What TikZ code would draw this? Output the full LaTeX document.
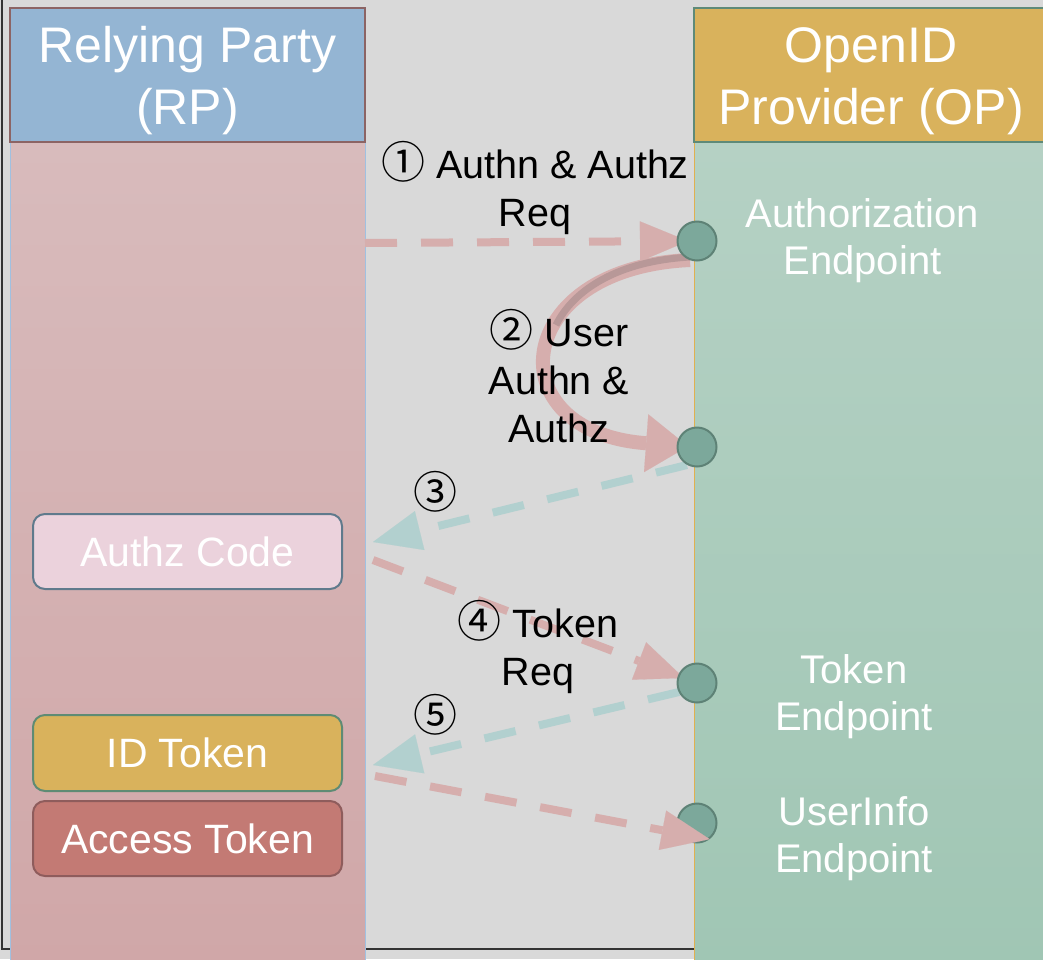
\documentclass[tikz,border=0pt]{standalone}
\usepackage{fontspec}
\setmainfont{Liberation Sans}
\newfontfamily\cjk{Noto Sans CJK SC}
\usetikzlibrary{arrows.meta}
\definecolor{bggray}{RGB}{217,217,217}
\definecolor{framec}{RGB}{51,51,51}
\definecolor{rphead}{RGB}{148,181,211}
\definecolor{rpheadedge}{RGB}{140,100,100}
\definecolor{rptop}{RGB}{216,187,188}
\definecolor{rpbot}{RGB}{208,167,168}
\definecolor{rpedge}{RGB}{160,192,224}
\definecolor{ophead}{RGB}{217,178,92}
\definecolor{opheadedge}{RGB}{94,138,120}
\definecolor{optop}{RGB}{181,209,196}
\definecolor{opbot}{RGB}{160,198,180}
\definecolor{opedge}{RGB}{224,176,80}
\definecolor{dotfill}{RGB}{124,168,155}
\definecolor{dotedge}{RGB}{94,130,118}
\definecolor{pinkA}{RGB}{214,174,173}
\definecolor{blueA}{RGB}{178,208,207}
\definecolor{curvedark}{RGB}{184,152,152}
\definecolor{codefill}{RGB}{235,210,220}
\definecolor{codeedge}{RGB}{95,122,140}
\definecolor{idfill}{RGB}{217,178,92}
\definecolor{idedge}{RGB}{94,139,116}
\definecolor{atfill}{RGB}{195,122,116}
\definecolor{atedge}{RGB}{142,92,92}
\newcommand{\circnum}[1]{{\fontsize{44}{48}\selectfont\cjk #1}}
\begin{document}
\begin{tikzpicture}[x=1pt,y=-1pt,
  titletext/.style={text=white, align=center, inner sep=0pt, font=\fontsize{50}{62}\selectfont},
  eptext/.style={text=white, align=center, inner sep=0pt, font=\fontsize{40}{47}\selectfont},
  steplabel/.style={text=black, align=center, inner sep=0pt, font=\fontsize{39.5}{48}\selectfont},
  tokbox/.style={rounded corners=12pt, line width=2pt, minimum width=309pt, minimum height=75pt, inner sep=0pt, text=white, font=\fontsize{41}{50}\selectfont},
  dot/.style={circle, fill=dotfill, draw=dotedge, line width=2pt, minimum size=39pt, inner sep=0pt},
  pinkarrow/.style={draw=pinkA, line width=8pt, dash pattern=on 32pt off 24pt, -{Triangle[length=48pt,width=40pt,line width=0.1pt]}},
  bluearrow/.style={draw=blueA, line width=8pt, dash pattern=on 32pt off 24pt, -{Triangle[length=48pt,width=40pt,line width=0.1pt]}},
  curvearrow/.style={draw=pinkA, line width=14pt, -{Triangle[length=42pt,width=58pt,line width=0.1pt]}}
]
\useasboundingbox (0,0) rectangle (1043,959);
\fill[bggray] (0,0) rectangle (1043,959);
\draw[framec, line width=2pt] (2,-5) -- (2,949) -- (700,949);
% lanes
\shade[top color=rptop, bottom color=rpbot] (10,142) rectangle (365,965);
\draw[rpedge, line width=1pt] (10,142) -- (10,965) (365,142) -- (365,965);
\shade[top color=optop, bottom color=opbot] (694,142) rectangle (1050,965);
\draw[opedge, line width=1pt] (694,142) -- (694,965);
\draw[fill=rphead, draw=rpheadedge, line width=2pt] (10,8) rectangle (365,142);
\draw[fill=ophead, draw=opheadedge, line width=2pt] (694,8) rectangle (1050,142);
\node[titletext] (rptitle) at (187.5,81) {Relying Party\\(RP)};
\node[titletext] (optitle) at (871,81) {OpenID\\Provider (OP)};
\node[eptext] (authep) at (862.5,241) {Authorization\\Endpoint};
\node[eptext] (tokep) at (854,697) {Token\\Endpoint};
\node[eptext] (uiep) at (854,839) {UserInfo\\Endpoint};
% RP boxes
\node[tokbox, fill=codefill, draw=codeedge] (code) at (187.5,551.5) {Authz Code};
\node[tokbox, fill=idfill, draw=idedge, minimum height=76pt] (idt) at (187.5,753) {ID Token};
\node[tokbox, fill=atfill, draw=atedge] (att) at (187.5,838.5) {Access Token};
% endpoint dots (positions)
\coordinate (p1) at (697,241);
\coordinate (p2) at (697,447);
\coordinate (p3) at (697,683);
\coordinate (p4) at (697,823);
\coordinate (a1s) at (365,243);
\coordinate (a3e) at (373,542);
\coordinate (a4s) at (373,560);
\coordinate (a5e) at (373,765);
\coordinate (a6s) at (375,776);
% arrows behind the dots
\draw[pinkarrow, shorten >=9pt] (a1s) -- (p1);
\draw[curvearrow, shorten >=9pt] (690,260) .. controls (510,268) and (495,432) .. (p2);
\draw[curvedark, line width=7pt] (690,257) .. controls (619,261) and (574,289) .. (556,325);
\draw[bluearrow] ([shift={(-10,18)}]p2) -- (a3e);
\draw[pinkarrow, shorten >=14pt] (a4s) -- (p3);
\draw[bluearrow] ([shift={(-18,9)}]p3) -- (a5e);
% dots
\node[dot] (c1) at (p1) {};
\node[dot] (c2) at (p2) {};
\node[dot] (c3) at (p3) {};
\node[dot] (c4) at (p4) {};
\draw[pinkarrow] (a6s) -- (c4.-52);
% step labels
\node[steplabel] (l1) at (535,192) {\smash{\circnum{①}} Authn \& Authz\\Req};
\node[steplabel] (l2) at (559,381) {\smash{\circnum{②}} User\\Authn \&\\Authz};
\node[steplabel] (l3) at (435,492) {\circnum{③}};
\node[steplabel] (l4) at (538,651) {\smash{\circnum{④}} Token\\Req};
\node[steplabel] (l5) at (435,715) {\circnum{⑤}};
\end{tikzpicture}
\end{document}
